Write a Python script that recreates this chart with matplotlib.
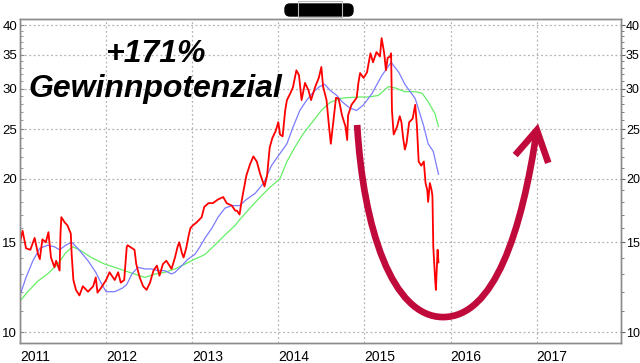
import matplotlib
matplotlib.use("Agg")
import matplotlib.pyplot as plt
import numpy as np
from matplotlib.path import Path
from matplotlib.patches import PathPatch, FancyBboxPatch, Rectangle
from matplotlib.ticker import NullFormatter
from matplotlib.transforms import IdentityTransform

# price (red), decimal years
price_t = [2011.00, 2011.03, 2011.07, 2011.12, 2011.17, 2011.21, 2011.23, 2011.26, 2011.30, 2011.33,
           2011.36, 2011.40, 2011.42, 2011.46, 2011.47, 2011.48, 2011.52, 2011.55, 2011.59, 2011.60,
           2011.62, 2011.65, 2011.69, 2011.73, 2011.79, 2011.85, 2011.88, 2011.90, 2011.94, 2012.00,
           2012.04, 2012.10, 2012.14, 2012.17, 2012.21, 2012.24, 2012.25, 2012.33, 2012.35, 2012.39,
           2012.43, 2012.47, 2012.51, 2012.55, 2012.59, 2012.62, 2012.66, 2012.70, 2012.76, 2012.80,
           2012.83, 2012.85, 2012.88, 2012.90, 2012.93, 2012.96, 2012.98, 2013.01, 2013.05, 2013.11,
           2013.14, 2013.19, 2013.24, 2013.30, 2013.36, 2013.40, 2013.46, 2013.50, 2013.52, 2013.55,
           2013.57, 2013.59, 2013.63, 2013.67, 2013.71, 2013.75, 2013.79, 2013.84, 2013.87, 2013.90,
           2013.93, 2013.97, 2014.00, 2014.02, 2014.05, 2014.08, 2014.10, 2014.14, 2014.17, 2014.21,
           2014.24, 2014.27, 2014.31, 2014.35, 2014.38, 2014.43, 2014.47, 2014.50, 2014.52, 2014.56,
           2014.59, 2014.61, 2014.64, 2014.67, 2014.70, 2014.74, 2014.78, 2014.80, 2014.81, 2014.85,
           2014.89, 2014.91, 2014.93, 2014.95, 2014.99, 2015.03, 2015.07, 2015.10, 2015.14, 2015.18,
           2015.20, 2015.23, 2015.25, 2015.27, 2015.30, 2015.31, 2015.32, 2015.34, 2015.38, 2015.41,
           2015.43, 2015.45, 2015.47, 2015.49, 2015.52, 2015.56, 2015.59, 2015.61, 2015.63, 2015.66,
           2015.69, 2015.71, 2015.73, 2015.74, 2015.76, 2015.78, 2015.79, 2015.80, 2015.82, 2015.83,
           2015.85, 2015.86]
price_v = [15.0, 15.8, 14.6, 14.5, 15.3, 14.2, 13.9, 15.2, 15.0, 15.7,
           14.0, 13.4, 13.8, 13.2, 15.6, 16.8, 16.4, 16.2, 15.6, 14.2,
           12.65, 12.1, 11.8, 12.3, 12.0, 12.3, 12.8, 11.95, 12.2, 12.65,
           13.1, 12.65, 13.1, 12.5, 12.65, 14.7, 14.8, 14.5, 13.6, 12.8,
           12.3, 12.1, 12.5, 13.2, 13.5, 12.9, 13.6, 13.8, 13.3, 14.0,
           14.7, 15.0, 14.3, 14.0, 14.6, 15.5, 16.0, 16.2, 16.4, 16.8,
           17.6, 17.9, 17.9, 18.2, 18.4, 17.9, 17.7, 17.3, 17.3, 17.0,
           17.9, 18.7, 20.3, 21.3, 22.1, 21.6, 20.4, 19.3, 20.3, 23.0,
           24.0, 24.8, 25.8, 24.4, 24.2, 27.2, 28.5, 29.4, 30.2, 32.6,
           31.9, 28.5, 30.8, 29.8, 28.5, 30.3, 31.5, 33.1, 30.3, 28.5,
           25.2, 23.4, 26.0, 28.8, 28.7, 26.6, 25.3, 23.8, 26.6, 27.9,
           28.5, 28.8, 30.8, 32.2, 31.5, 32.3, 35.2, 33.8, 35.4, 34.7,
           37.7, 35.2, 32.6, 34.5, 34.7, 35.2, 27.2, 24.4, 25.3, 26.5,
           25.8, 24.0, 22.8, 23.5, 25.8, 26.2, 27.9, 25.3, 21.6, 21.2,
           21.6, 19.6, 19.0, 18.0, 19.6, 19.0, 18.5, 14.7, 12.8, 12.1,
           14.5, 13.7]

# short moving average (blue)
ma_short_t = [2011.00, 2011.07, 2011.15, 2011.23, 2011.32, 2011.40, 2011.46, 2011.53, 2011.60, 2011.67,
              2011.79, 2011.88, 2011.94, 2012.00, 2012.10, 2012.19, 2012.24, 2012.30, 2012.37, 2012.45,
              2012.53, 2012.60, 2012.68, 2012.76, 2012.80, 2012.88, 2012.95, 2013.03, 2013.09, 2013.15,
              2013.23, 2013.30, 2013.38, 2013.46, 2013.55, 2013.63, 2013.73, 2013.83, 2013.92, 2014.02,
              2014.10, 2014.17, 2014.25, 2014.33, 2014.41, 2014.48, 2014.54, 2014.60, 2014.68, 2014.74,
              2014.83, 2014.91, 2014.99, 2015.09, 2015.20, 2015.31, 2015.40, 2015.47, 2015.59, 2015.69,
              2015.74, 2015.80, 2015.86]
ma_short_v = [11.8, 12.8, 13.8, 14.6, 14.8, 14.7, 14.5, 14.8, 15.0, 14.6,
              13.8, 13.1, 12.5, 12.0, 12.0, 12.2, 12.4, 13.0, 13.4, 13.3,
              13.3, 13.2, 13.2, 13.0, 13.1, 13.5, 13.9, 14.2, 14.7, 15.3,
              16.0, 16.8, 17.5, 17.7, 17.7, 18.2, 18.7, 19.6, 21.2, 22.4,
              23.4, 25.2, 27.2, 28.5, 29.6, 30.3, 30.6, 29.8, 29.1, 28.3,
              27.5, 27.2, 27.9, 29.4, 31.8, 33.8, 32.3, 30.6, 28.7, 25.3,
              23.4, 22.6, 20.4]

# long moving average (green)
ma_long_t = [2011.00, 2011.09, 2011.21, 2011.32, 2011.44, 2011.53, 2011.61, 2011.69, 2011.83, 2011.98,
             2012.10, 2012.21, 2012.33, 2012.45, 2012.57, 2012.68, 2012.80, 2012.92, 2013.03, 2013.15,
             2013.26, 2013.38, 2013.50, 2013.55, 2013.67, 2013.79, 2013.90, 2014.02, 2014.10, 2014.19,
             2014.29, 2014.41, 2014.50, 2014.60, 2014.72, 2014.78, 2014.93, 2015.05, 2015.16, 2015.28,
             2015.36, 2015.47, 2015.59, 2015.67, 2015.74, 2015.82, 2015.86]
ma_long_v = [11.5, 12.0, 12.6, 13.0, 13.6, 14.3, 14.7, 14.5, 14.0, 13.6,
             13.4, 13.2, 13.0, 12.8, 13.0, 13.1, 13.3, 13.6, 13.9, 14.2,
             14.8, 15.5, 16.2, 16.6, 17.5, 18.4, 19.2, 20.0, 21.6, 23.0,
             24.5, 26.0, 27.2, 28.2, 28.7, 28.8, 28.9, 28.9, 29.1, 30.3,
             30.1, 29.6, 29.6, 29.4, 28.3, 26.8, 25.3]

years = [2011, 2012, 2013, 2014, 2015, 2016, 2017]
y_major = [10, 15, 20, 25, 30, 35, 40]
y_minor = [v for v in range(11, 40) if v % 5 != 0]

plt.rcParams['font.family'] = ['Liberation Sans', 'DejaVu Sans']

fig = plt.figure(figsize=(6.4, 3.63), dpi=100)
ax = fig.add_axes([20 / 640, 20 / 363, 601 / 640, 324 / 363])

ax.plot(ma_long_t, ma_long_v, color='#66ee66', lw=0.9, zorder=2)
ax.plot(ma_short_t, ma_short_v, color='#7b7bff', lw=0.9, zorder=3)
ax.plot(price_t, price_v, color='#ff0000', lw=1.3, zorder=4)

ax.set_yscale('log')
ax.set_ylim(9.52, 41.1)
ax.set_xlim(2011.0, 2017.98)

ax.set_yticks(y_major)
ax.set_yticklabels([str(v) for v in y_major])
ax.set_yticks(y_minor, minor=True)
ax.yaxis.set_minor_formatter(NullFormatter())
ax.tick_params(axis='y', which='major', direction='in', length=3, pad=2,
               labelsize=9.5, color='#888888')
ax.tick_params(axis='y', which='minor', direction='in', length=2, color='#888888')

ax.set_xticks(years)
ax.set_xticklabels([str(y) for y in years], ha='left')
ax.tick_params(axis='x', length=0, pad=5, labelsize=10)

ax.grid(True, which='major', color='#b4b4b4', linestyle=(0, (1.5, 2)), lw=0.9)

# right axis with outward ticks
ax2 = ax.twinx()
ax2.set_yscale('log')
ax2.set_ylim(ax.get_ylim())
ax2.set_yticks(y_major)
ax2.set_yticklabels([str(v) for v in y_major])
ax2.set_yticks(y_minor, minor=True)
ax2.yaxis.set_minor_formatter(NullFormatter())
ax2.tick_params(axis='y', which='major', direction='out', length=3, pad=0.5,
                labelsize=9, color='#666666')
ax2.tick_params(axis='y', which='minor', direction='out', length=2, color='#666666')

for a in (ax, ax2):
    for s in a.spines.values():
        s.set_color('#8c8c8c')
        s.set_linewidth(1.0)

# big U-shaped arrow (axes fraction)
arrow_color = '#c00a3c'
verts = [(0.561, 0.673), (0.571, 0.355), (0.619, 0.080), (0.704, 0.080),
         (0.789, 0.080), (0.835, 0.343), (0.860, 0.657)]
codes = [Path.MOVETO, Path.CURVE4, Path.CURVE4, Path.CURVE4,
         Path.CURVE4, Path.CURVE4, Path.CURVE4]
ax2.add_patch(PathPatch(Path(verts, codes), transform=ax.transAxes, fill=False,
                        edgecolor=arrow_color, lw=4.8, capstyle='butt', zorder=6))
ax2.plot([0.824, 0.860, 0.879], [0.580, 0.657, 0.556], transform=ax.transAxes,
         color=arrow_color, lw=4.8, solid_capstyle='butt', solid_joinstyle='miter', zorder=6)

# handwritten style text
fig.text(155 / 640, (363 - 62) / 363, '+171%', fontsize=23, style='italic', weight='bold',
         ha='center', va='baseline', color='black', family=['Liberation Sans'])
fig.text(28 / 640, (363 - 97) / 363, 'Gewinnpotenzial', fontsize=23, style='italic', weight='bold',
         ha='left', va='baseline', color='black', family=['Liberation Sans'])

# redacted logo blob at the top
fig.patches.append(FancyBboxPatch((285, 347), 68, 12, boxstyle='round,pad=0,rounding_size=5',
                                  transform=IdentityTransform(), facecolor='black',
                                  edgecolor='black', figure=fig))
fig.patches.append(Rectangle((298, 346), 44, 16, transform=IdentityTransform(),
                             facecolor='none', edgecolor='#bbbbbb', lw=0.8, figure=fig))

fig.savefig('out.png', dpi=100)
